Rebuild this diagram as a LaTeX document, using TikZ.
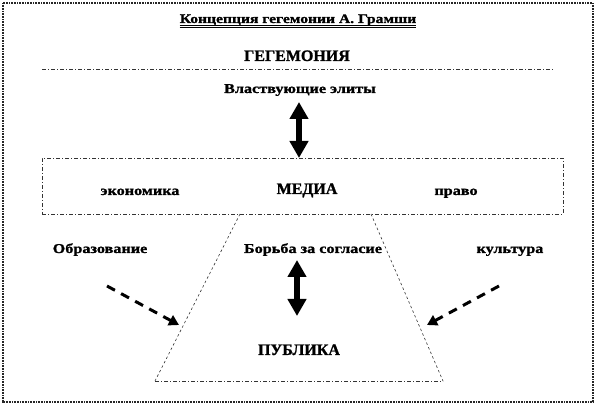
\documentclass[tikz,border=0pt]{standalone}
\usepackage{fontspec}
\setmainfont{Liberation Serif}
\newfontfamily\wfont[FakeStretch=1.2,FakeBold=1.2]{Liberation Serif}
\newfontfamily\cfont[FakeBold=1.2]{Liberation Serif}
\usetikzlibrary{arrows.meta}
\begin{document}
\begin{tikzpicture}[x=1pt,y=-1pt,
 lbl/.style={font=\wfont\bfseries\fontsize{13.5}{15}\selectfont, anchor=base, inner sep=0pt},
 capslbl/.style={font=\cfont\bfseries\fontsize{16}{18}\selectfont, anchor=base, inner sep=0pt},
 dashdot/.style={line width=0.6pt, dash pattern=on 4pt off 2pt on 1pt off 2pt, black!80},
 fine/.style={line width=0.6pt, dash pattern=on 2.5pt off 2.5pt, black!80},
 dbl/.style={line width=6pt, {Triangle[width=18pt,length=17pt]}-{Triangle[width=18pt,length=17pt]}},
 dsh/.style={line width=3pt, dash pattern=on 9pt off 7pt, -{Triangle[width=11pt,length=10pt]}},
]
\useasboundingbox (0,0) rectangle (598,406);
% frame
\draw[line width=1.6pt, dash pattern=on 0.8pt off 0.8pt, black!85] (3,3) rectangle (593,402);

% title
\node[lbl, font=\wfont\bfseries\fontsize{13}{15}\selectfont] (title) at (298,23) {Концепция гегемонии А. Грамши};
\draw[line width=0.8pt] ([yshift=-2.5pt]title.base west) -- ([yshift=-2.5pt]title.base east);
\draw[line width=0.8pt] ([yshift=-4.7pt]title.base west) -- ([yshift=-4.7pt]title.base east);

\node[capslbl] (hegem) at (297,61) {ГЕГЕМОНИЯ};
\coordinate (sepL) at (42,69);
\coordinate (sepR) at (553,69);
\draw[dashdot] (sepL) -- (sepR);

\node[lbl] (elites) at (300,93) {Властвующие элиты};

% media box
\node[dashdot, draw, minimum width=521pt, minimum height=56pt, inner sep=0pt] (mediabox) at (302.5,186) {};
\node[lbl] (econ) at (140,195) {экономика};
\node[capslbl] (media) at (307,194) {МЕДИА};
\node[lbl] (law) at (456,195) {право};

\coordinate (a1t) at (299,102);
\coordinate (a1b) at (299,158);
\draw[dbl] (a1t) -- (a1b);

% trapezoid
\coordinate (tl) at (240,214);
\coordinate (tr) at (371,214);
\coordinate (bl) at (155,381);
\coordinate (br) at (443,381);
\draw[fine] (tl) -- (bl);
\draw[fine] (tr) -- (br);
\draw[dashdot] (bl) -- (br);

\node[lbl] (edu) at (100,253) {Образование};
\node[lbl] (struggle) at (313,253) {Борьба за согласие};
\node[lbl] (culture) at (510,253) {культура};

\coordinate (a2t) at (297,260);
\coordinate (a2b) at (297,316);
\draw[dbl] (a2t) -- (a2b);

\coordinate (dlS) at (107,286);
\coordinate (dlE) at (179,325);
\draw[dsh] (dlS) -- (dlE);
\coordinate (drS) at (499,286);
\coordinate (drE) at (427,325);
\draw[dsh] (drS) -- (drE);

\node[capslbl] (public) at (299,355) {ПУБЛИКА};
\end{tikzpicture}
\end{document}
